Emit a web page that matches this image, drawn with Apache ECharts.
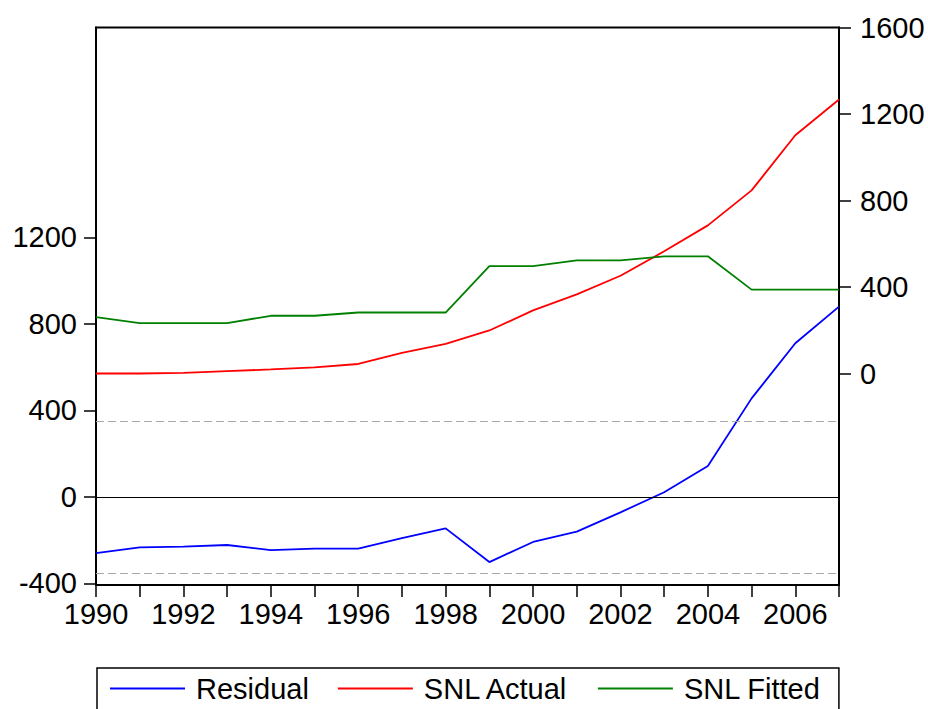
<!DOCTYPE html>
<html>
<head>
<meta charset="utf-8">
<title>Residual / Actual / Fitted</title>
<script src="https://cdn.jsdelivr.net/npm/echarts@6/dist/echarts.min.js"></script>
<style>
  html, body { margin: 0; padding: 0; background: #fff; }
  #chart { width: 928px; height: 709px; }
</style>
</head>
<body>
<div id="chart"></div>
<script>
const years = [1990, 1991, 1992, 1993, 1994, 1995, 1996, 1997, 1998, 1999,
  2000, 2001, 2002, 2003, 2004, 2005, 2006, 2007]

// left scale
const residual = [-260, -233, -230, -222, -246, -239, -239, -190, -145, -301,
  -208, -160, -71, 22, 143, 456, 711, 880]
// right scale
const snlActual = [0, 0, 3, 11, 19, 28, 44, 95, 137, 199,
  292, 366, 452, 565, 685, 847, 1102, 1267]
const snlFitted = [261, 233, 233, 233, 267, 267, 282, 282, 282, 497,
  497, 523, 523, 542, 542, 388, 388, 388]

const leftTicks = [-400, 0, 400, 800, 1200]
const rightTicks = [0, 400, 800, 1200, 1600]
const yearLabels = [1990, 1992, 1994, 1996, 1998, 2000, 2002, 2004, 2006]
const seBand = 352

const font = '"Liberation Sans", Arial, Helvetica, sans-serif'

const pairs = (vals) => years.map((y, i) => [y, vals[i]])
const plain = (v) => String(v)

const chart = echarts.init(document.getElementById('chart'), null, { renderer: 'svg' })

const axisLine = { show: true, onZero: false, lineStyle: { color: '#000', width: 2 } }
const tick = { show: true, inside: false, length: 12, lineStyle: { color: '#000', width: 1.5 } }
const labelStyle = { color: '#000', fontSize: 29, fontFamily: font, formatter: plain }

chart.setOption({
  animation: false,
  backgroundColor: '#fff',
  grid: {
    left: 96, right: 89, top: 27.5, bottom: 124,
    containLabel: false,
    outerBoundsMode: 'none',
    show: true, borderColor: '#000', borderWidth: 2
  },
  legend: {
    left: 97,
    top: 668,
    padding: [6, 18, 24, 13],
    itemGap: 29,
    itemWidth: 75,
    itemHeight: 2,
    icon: 'rect',
    borderColor: '#000',
    borderWidth: 1.5,
    textStyle: { color: '#000', fontSize: 29, fontFamily: font, padding: [0, 0, 0, 6] },
    data: ['Residual', 'SNL Actual', 'SNL Fitted']
  },
  xAxis: {
    type: 'value',
    min: 1990,
    max: 2007,
    interval: 1,
    axisLine: axisLine,
    axisTick: tick,
    splitLine: { show: false },
    axisLabel: { ...labelStyle, margin: 14, customValues: yearLabels }
  },
  yAxis: [
    {
      type: 'value',
      position: 'left',
      min: -407,
      max: 2171,
      axisLine: axisLine,
      axisTick: { ...tick, customValues: leftTicks },
      splitLine: { show: false },
      axisLabel: { ...labelStyle, margin: 19, customValues: leftTicks }
    },
    {
      type: 'value',
      position: 'right',
      min: -978,
      max: 1600,
      axisLine: axisLine,
      axisTick: { ...tick, customValues: rightTicks },
      splitLine: { show: false },
      axisLabel: { ...labelStyle, margin: 21, customValues: rightTicks }
    }
  ],
  series: [
    {
      name: 'Residual',
      type: 'line',
      yAxisIndex: 0,
      symbol: 'none',
      color: '#0000ff',
      lineStyle: { color: '#0000ff', width: 1.8 },
      data: pairs(residual),
      markLine: {
        silent: true,
        symbol: 'none',
        label: { show: false },
        data: [
          { yAxis: 0, lineStyle: { color: '#000', width: 1, type: 'solid' } },
          { yAxis: seBand, lineStyle: { color: '#aaaaaa', width: 1, type: [8, 4] } },
          { yAxis: -seBand, lineStyle: { color: '#aaaaaa', width: 1, type: [8, 4] } }
        ]
      }
    },
    {
      name: 'SNL Actual',
      type: 'line',
      yAxisIndex: 1,
      symbol: 'none',
      color: '#ff0000',
      lineStyle: { color: '#ff0000', width: 1.8 },
      data: pairs(snlActual)
    },
    {
      name: 'SNL Fitted',
      type: 'line',
      yAxisIndex: 1,
      symbol: 'none',
      color: '#008000',
      lineStyle: { color: '#008000', width: 1.8 },
      data: pairs(snlFitted)
    }
  ]
})
</script>
</body>
</html>
